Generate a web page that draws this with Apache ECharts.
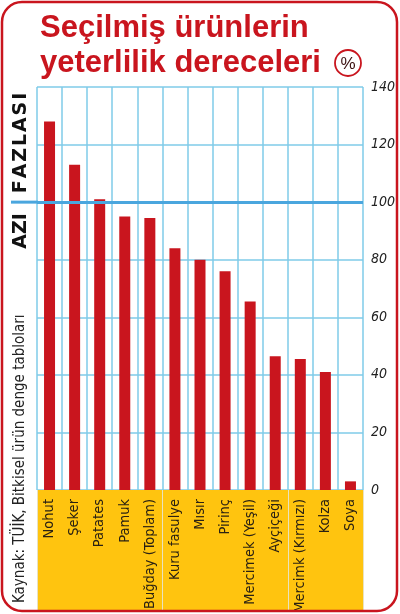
<!DOCTYPE html>
<html>
<head>
<meta charset="utf-8">
<script src="https://cdn.jsdelivr.net/npm/echarts@6/dist/echarts.min.js"></script>
<style>
html,body{margin:0;padding:0;background:#fff;}
#c{width:400px;height:614px;}
</style>
</head>
<body>
<div id="c"></div>
<script>
var categories = ['Nohut','Şeker','Patates','Pamuk','Buğday (Toplam)','Kuru fasulye','Mısır','Pirinç','Mercimek (Yeşil)','Ayçiçeği','Mercimk (Kırmızı)','Kolza','Soya'];
var values = [128, 113, 101, 95, 94.5, 84, 80, 76, 65.5, 46.5, 45.5, 41, 3];
var yTicks = { min: 0, max: 140, interval: 20 };
var threshold = 100;
var titleText = 'Seçilmiş ürünlerin\nyeterlilik dereceleri';
var sourceText = 'Kaynak: TÜİK, Bitkisel ürün denge tabloları';
var aboveText = 'F\u200aA\u200aZ\u200aL\u200aA\u200aS\u200aI';
var belowText = 'AZI';

var RED = '#c9151e';
var GRID_BLUE = '#7fcbe8';
var LINE_BLUE = '#4aa6de';
var YELLOW = '#ffc40f';
var NARROW = '"Liberation Sans Narrow", "DejaVu Sans Condensed", "Arial Narrow", sans-serif';

var chart = echarts.init(document.getElementById('c'));
chart.setOption({
  animation: false,
  backgroundColor: '#ffffff',
  title: {
    text: titleText,
    left: 35,
    top: 6,
    textStyle: {
      color: RED,
      fontSize: 31,
      fontWeight: 'bold',
      fontFamily: '"Liberation Sans", Arial, sans-serif',
      lineHeight: 35
    }
  },
  grid: [
    { left: 37, right: 37, top: 87, bottom: 124, containLabel: false, outerBoundsMode: 'none' },
    { left: 37, right: 37, top: 490, bottom: 3, containLabel: false, outerBoundsMode: 'none' }
  ],
  xAxis: [
    {
      type: 'category', gridIndex: 0, data: categories,
      axisLine: { show: false }, axisTick: { show: false },
      splitLine: { show: true, lineStyle: { color: GRID_BLUE, width: 1.5 } },
      axisLabel: {
        rotate: 90, margin: 9, interval: 0,
        fontFamily: NARROW, fontSize: 14.5, color: '#2a2113'
      },
      z: 5
    },
    {
      type: 'category', gridIndex: 1, data: categories,
      axisLine: { show: false }, axisTick: { show: false }, axisLabel: { show: false },
      splitLine: { show: true, lineStyle: { color: '#e9e2c0', width: 1 } },
      splitArea: { show: true, areaStyle: { color: [YELLOW, YELLOW] } }
    }
  ],
  yAxis: [
    {
      type: 'value', gridIndex: 0, position: 'right',
      min: yTicks.min, max: yTicks.max, interval: yTicks.interval,
      axisLine: { show: false }, axisTick: { show: false },
      splitLine: { show: true, lineStyle: { color: GRID_BLUE, width: 1.5 } },
      axisLabel: {
        margin: 8, fontFamily: NARROW, fontStyle: 'italic',
        fontSize: 14, color: '#222'
      }
    },
    { type: 'value', gridIndex: 1, show: false, min: 0, max: 1 }
  ],
  series: [
    {
      type: 'bar', xAxisIndex: 0, yAxisIndex: 0,
      data: values, barWidth: 11,
      itemStyle: { color: RED },
      z: 3,
      markLine: {
        silent: true, symbol: 'none', label: { show: false },
        lineStyle: { color: LINE_BLUE, width: 3, type: 'solid' },
        data: [{ yAxis: threshold }]
      }
    }
  ]
});

var y100 = chart.convertToPixel({ yAxisIndex: 0 }, threshold);
chart.setOption({
  graphic: [
    {
      type: 'line', z: 10,
      shape: { x1: 11, y1: y100, x2: 38, y2: y100 },
      style: { stroke: LINE_BLUE, lineWidth: 3 }
    },
    {
      type: 'text', x: 21, y: y100 - 9, rotation: Math.PI / 2, z: 10,
      style: { text: aboveText, font: 'bold 19px "DejaVu Sans", sans-serif', fill: '#111',
        align: 'left', textAlign: 'left', verticalAlign: 'middle', textVerticalAlign: 'middle' }
    },
    {
      type: 'text', x: 21, y: y100 + 11, rotation: Math.PI / 2, z: 10,
      style: { text: belowText, font: 'bold 19px "DejaVu Sans", sans-serif', fill: '#111',
        align: 'right', textAlign: 'right', verticalAlign: 'middle', textVerticalAlign: 'middle' }
    },
    {
      type: 'text', x: 20, y: 603, rotation: Math.PI / 2, z: 10,
      style: { text: sourceText, font: '15px ' + NARROW, fill: '#222',
        align: 'left', textAlign: 'left', verticalAlign: 'middle', textVerticalAlign: 'middle' }
    },
    {
      type: 'circle', z: 10,
      shape: { cx: 348, cy: 63, r: 13 },
      style: { fill: '#fff', stroke: RED, lineWidth: 1.8 }
    },
    {
      type: 'text', x: 348, y: 64, z: 11,
      style: { text: '%', font: '17px "Liberation Sans", sans-serif', fill: '#3a1010',
        align: 'center', textAlign: 'center', verticalAlign: 'middle', textVerticalAlign: 'middle' }
    },
    {
      type: 'rect', z: 20, silent: true,
      shape: { x: 2, y: 2, width: 395, height: 609, r: 20 },
      style: { fill: 'none', stroke: RED, lineWidth: 2.5 }
    }
  ]
});
</script>
</body>
</html>
